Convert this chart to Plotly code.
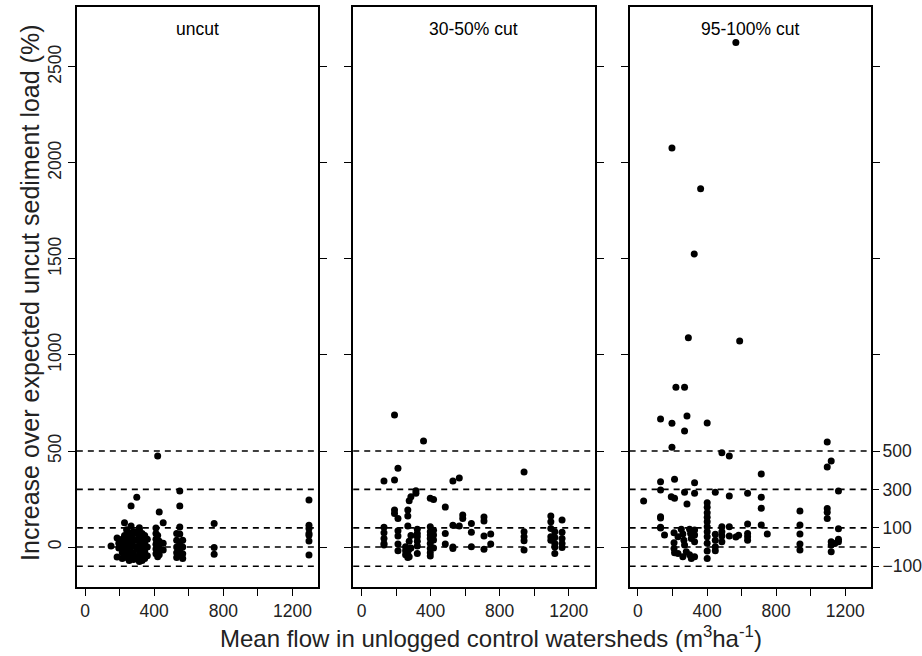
import plotly.graph_objects as go

# Mean flow in control watersheds (m3/ha) grouped with the observed
# percent increase in sediment load for each watershed at that flow.
uncut = [
    (150, [5]),
    (185, [47, -52]),
    (195, [-5, 20]),
    (215, [40, 0, -30, -60]),
    (228, [127, 60, 20, -20, -45]),
    (240, [90, 50, 10, -15, -55]),
    (255, [75, 30, 0, -40, -70]),
    (266, [214, 109, 60, 15, -25]),
    (280, [80, 40, 5, -35, -65]),
    (299, [259, 70, 35, -10, -50]),
    (314, [100, 90, 50, 10, -20, -60, -75]),
    (330, [70, 30, -5, -40, -70]),
    (345, [60, 20, -25, -60]),
    (360, [40, 0, -45]),
    (410, [99, 70, 40, 15, -10, -35]),
    (420, [474, 60, 25, -20, -50]),
    (429, [182, 30, -5, -40]),
    (452, [127, 20, -15]),
    (530, [70, 35, 0, -30, -55]),
    (548, [292, 214, 104, 68, 20, -15, -45]),
    (565, [36, 0, -35, -60]),
    (747, [123, -3, -37]),
    (1296, [245, 113, 97, 71, 61, 31, -42]),
]

cut_30_50 = [
    (130, [344, 103, 75, 45, 19, 10]),
    (191, [687, 349, 193, 175]),
    (211, [410, 149, 85, 57, 16, -19]),
    (255, [2, -19, -40]),
    (268, [193, 161, 109, -30, -55]),
    (276, [241, 30, -10, -50]),
    (286, [262, 60, -5]),
    (315, [280, 293]),
    (323, [92, 71, 54, 30, 5, -33]),
    (359, [552]),
    (398, [254, 106, 80, 63, 45, 19, -7, -30, -47]),
    (417, [248, 88, 63, 37, -5]),
    (485, [208, 71, 16]),
    (529, [344, 113, 0, -7]),
    (566, [359, 109]),
    (586, [167, 149]),
    (636, [123, 77, 2]),
    (709, [156, 135, 57, -12]),
    (748, [68, 16]),
    (941, [391, 80, 54, 33, -16]),
    (1096, [161, 132, 97, 54, 36]),
    (1119, [80, 50, 19, 0, -33]),
    (1161, [141, 77, 45, 19, -2]),
]

cut_95_100 = [
    (33, [240]),
    (131, [667, 340, 297, 158, 151, 103, 99]),
    (154, [63]),
    (193, [262]),
    (197, [2078, 644, 519]),
    (209, [75, 22, -7]),
    (212, [353, 254, -30]),
    (220, [832]),
    (232, [54, -33]),
    (251, [92]),
    (260, [68, -50]),
    (266, [36]),
    (270, [832, 604, 285, 10]),
    (280, [-24]),
    (284, [682, 224]),
    (292, [1089]),
    (299, [92, -40]),
    (305, [71]),
    (309, [45, -60]),
    (326, [1526]),
    (328, [335, 280, 89, 63, 28, -50]),
    (363, [1865]),
    (401, [646, 231, 207, 179, 155, 132, 106, 80, 54, 20, -21, -59]),
    (448, [285, 66, 36, 2, -19]),
    (486, [491, 106, 80, 57, 28]),
    (529, [474, 266, 106, 57]),
    (567, [2627, 52]),
    (583, [61]),
    (589, [1073]),
    (635, [280, 120, 71, 54, 36]),
    (714, [380, 259, 202, 115]),
    (749, [68]),
    (938, [187, 115, 68, 16, -16]),
    (1096, [547, 417, 201, 181, 149]),
    (1119, [448, 28, 10, -24]),
    (1140, [19]),
    (1161, [292, 95, 40, 28]),
]

panel_titles = ["uncut", "30-50% cut", "95-100% cut"]
reference_levels = [-100, 0, 100, 300, 500]
y_ticks = [0, 500, 1000, 1500, 2000, 2500]
right_ticks = [-100, 100, 300, 500]

W, H = 922, 656
FONT = "Liberation Sans, Arial, sans-serif"
panel_left = [77, 354, 631]
panel_width = 242
plot_top, plot_bottom = 6.5, 587
x_range = [-48, 1350]
y_range = [-208, 2814]
TICK = dict(ticks="outside", ticklen=7, tickwidth=1.3, tickcolor="black")
TICKFONT = dict(family=FONT, size=17.5, color="#222")


def expand(groups):
    xs, ys = [], []
    for flow, loads in groups:
        for v in loads:
            xs.append(flow)
            ys.append(v)
    return xs, ys


fig = go.Figure()
ydom = [1 - plot_bottom / H, 1 - plot_top / H]

for i, groups in enumerate([uncut, cut_30_50, cut_95_100]):
    n = i + 1
    sx = "" if n == 1 else str(n)
    xs, ys = expand(groups)
    fig.add_trace(go.Scatter(
        x=xs, y=ys, mode="markers", xaxis="x" + sx, yaxis="y" + sx,
        marker=dict(color="black", size=7, line=dict(width=0)),
        showlegend=False, hoverinfo="x+y",
    ))
    left = panel_left[i]
    fig.update_layout(**{
        "xaxis" + sx: dict(
            domain=[left / W, (left + panel_width) / W], anchor="y" + sx,
            range=x_range, tick0=0, dtick=400, **TICK,
            minor=dict(dtick=200, **TICK),
            showline=True, linewidth=1.8, linecolor="black", mirror=True,
            showgrid=False, zeroline=False, tickfont=TICKFONT,
        ),
        "yaxis" + sx: dict(
            domain=ydom, anchor="x" + sx, range=y_range, tickvals=y_ticks, **TICK,
            showline=True, linewidth=1.8, linecolor="black", mirror="ticks",
            showgrid=False, zeroline=False, showticklabels=(n == 1),
            tickangle=-90, tickfont=TICKFONT,
        ),
    })
    for lvl in reference_levels:
        fig.add_shape(type="line", xref="x" + sx + " domain", yref="y" + sx,
                      x0=0, x1=1, y0=lvl, y1=lvl,
                      line=dict(color="black", width=1.6, dash="6px,5px"))
    fig.add_annotation(text=panel_titles[i], xref="x" + sx + " domain",
                       yref="y" + sx + " domain", x=0.5,
                       y=1 - 22.5 / (plot_bottom - plot_top),
                       xanchor="center", yanchor="middle", showarrow=False,
                       font=dict(family=FONT, size=17.5, color="black"))

# labelled reference levels on the right of the last panel
fig.update_layout(yaxis4=dict(
    overlaying="y3", side="right", anchor="x3", range=y_range,
    tickvals=right_ticks, **TICK, showline=False, showgrid=False,
    zeroline=False, tickfont=TICKFONT,
))
fig.add_trace(go.Scatter(x=[None], y=[None], xaxis="x3", yaxis="y4",
                         showlegend=False, hoverinfo="skip"))

fig.add_annotation(text="Mean flow in unlogged control watersheds (m<sup>3</sup>ha<sup>-1</sup>)",
                   xref="paper", yref="paper", x=492 / W, y=1 - 637 / H,
                   xanchor="center", yanchor="middle", showarrow=False,
                   font=dict(family=FONT, size=24, color="#222"))
fig.add_annotation(text="Increase over expected uncut sediment load (%)",
                   xref="paper", yref="paper", x=30 / W, y=1 - 293 / H, textangle=-90,
                   xanchor="center", yanchor="middle", showarrow=False,
                   font=dict(family=FONT, size=25, color="#222"))

fig.update_layout(width=W, height=H, margin=dict(l=0, r=0, t=0, b=0),
                  plot_bgcolor="white", paper_bgcolor="white", showlegend=False)
fig.write_html("out.html")
